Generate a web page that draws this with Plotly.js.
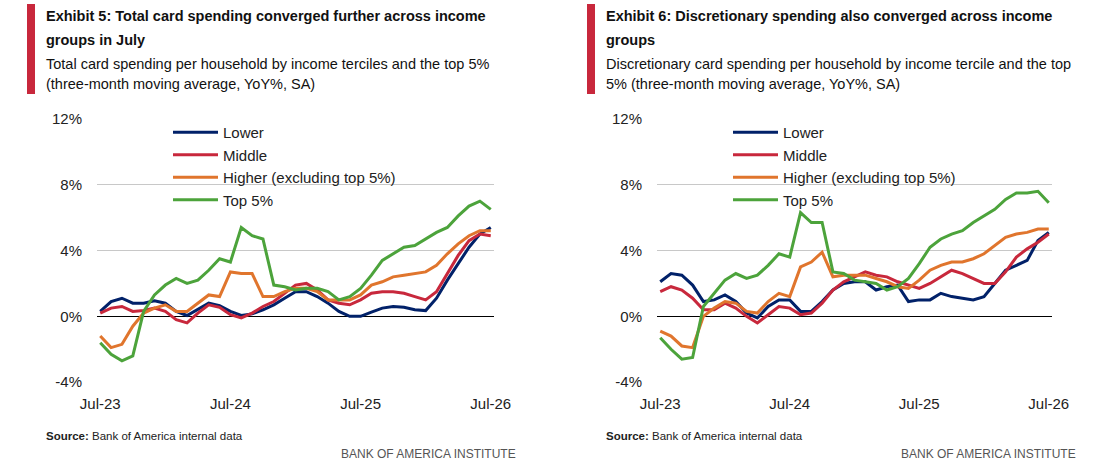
<!DOCTYPE html>
<html>
<head>
<meta charset="utf-8">
<script src="https://cdn.plot.ly/plotly-3.0.1.min.js"></script>
<style>body{margin:0;background:#fff}#chart{width:1102px;height:474px}</style>
</head>
<body>
<div id="chart"></div>
<script>
// === Data (monthly, Jul-23 .. Jul-26) === //
var months = [];
var monthNames = ['Jul','Aug','Sep','Oct','Nov','Dec','Jan','Feb','Mar','Apr','May','Jun'];
for(i=0;i<37;i++){
    var y = 23 + Math.floor(i/12);
    months.push(monthNames[i%12] + '-' + y);
}
var tickVals = ['Jul-23','Jul-24','Jul-25','Jul-26'];
var seriesNames = ['Lower','Middle','Higher (excluding top 5%)','Top 5%'];
var colors = ['#012169','#c8283c','#e0752d','#4ca33b'];

// Exhibit 5: total card spending
var totLower  = [0.3,0.9,1.1,0.8,0.8,0.95,0.8,0.3,0.05,0.4,0.8,0.65,0.3,0.05,0.15,0.4,0.7,1.1,1.5,1.5,1.2,0.8,0.3,0.0,0.0,0.25,0.5,0.6,0.55,0.4,0.35,1.1,2.2,3.2,4.2,5.0,5.4];
var totMiddle = [0.2,0.5,0.6,0.3,0.35,0.5,0.3,-0.2,-0.4,0.2,0.7,0.55,0.1,-0.1,0.2,0.6,0.9,1.4,1.9,2.0,1.6,1.0,0.8,0.7,1.0,1.4,1.5,1.5,1.4,1.2,1.0,1.5,2.6,3.7,4.6,5.0,4.9];
var totHigher = [-1.2,-1.9,-1.7,-0.6,0.2,0.5,0.7,0.3,0.3,0.8,1.3,1.2,2.7,2.6,2.6,1.2,1.2,1.5,1.7,1.7,1.5,1.0,1.0,1.0,1.3,1.9,2.1,2.4,2.5,2.6,2.7,3.1,3.8,4.4,4.9,5.2,5.2];
var totTop5   = [-1.6,-2.3,-2.7,-2.4,0.3,1.3,1.9,2.3,2.0,2.2,2.8,3.5,3.3,5.4,4.9,4.7,1.9,1.8,1.6,1.7,1.7,1.5,1.0,1.2,1.7,2.5,3.4,3.8,4.2,4.3,4.7,5.1,5.4,6.1,6.7,7.0,6.5];

// Exhibit 6: discretionary spending
var discLower  = [2.1,2.6,2.5,1.9,0.9,1.0,1.3,0.9,0.2,-0.1,0.6,1.0,1.0,0.3,0.3,0.9,1.6,2.0,2.1,2.1,1.6,1.8,1.9,0.9,1.0,1.0,1.4,1.2,1.1,1.0,1.2,2.0,2.8,3.1,3.4,4.6,5.1];
var discMiddle = [1.5,1.8,1.6,1.1,0.4,0.4,0.8,0.5,0.0,-0.4,0.1,0.6,0.5,0.1,0.2,0.8,1.6,2.1,2.4,2.7,2.5,2.4,2.1,1.9,1.7,2.0,2.4,2.8,2.6,2.3,2.0,2.0,2.7,3.6,4.1,4.5,5.0];
var discHigher = [-0.9,-1.2,-1.8,-1.9,0.0,0.5,0.9,0.8,0.3,0.2,0.9,1.4,1.2,3.0,3.3,3.9,2.4,2.5,2.5,2.5,2.3,2.1,1.8,1.7,2.2,2.8,3.1,3.3,3.3,3.5,3.8,4.3,4.8,5.0,5.1,5.3,5.3];
var discTop5   = [-1.3,-2.0,-2.6,-2.5,0.6,1.4,2.2,2.6,2.3,2.5,3.1,3.8,3.6,6.3,5.7,5.7,2.7,2.6,2.2,2.1,2.0,1.6,1.8,2.3,3.2,4.2,4.7,5.0,5.2,5.7,6.1,6.5,7.1,7.5,7.5,7.6,6.9];

var yTicks = [-4,0,4,8,12];
var yLabels = ['-4%','0%','4%','8%','12%'];

// === Helpers === //
var W = 1102, H = 474;
function px(x){ return x / W; }
function py(y){ return 1 - y / H; }

var font = 'Liberation Sans Narrow, Arial Narrow, Liberation Sans, sans-serif';

var panels = [
    {sets:[totLower,totMiddle,totHigher,totTop5], x0:97, x1:494, xa:'x', ya:'y', legend:'legend'},
    {sets:[discLower,discMiddle,discHigher,discTop5], x0:657, x1:1052, xa:'x2', ya:'y2', legend:'legend2'}
];

var traces = [];
panels.forEach((p)=>{
    p.sets.forEach((vals,k)=>{
        traces.push({
            x: months, y: vals, name: seriesNames[k],
            type: 'scatter', mode: 'lines',
            line: {color: colors[k], width: 3},
            xaxis: p.xa, yaxis: p.ya, legend: p.legend,
            hoverinfo: 'skip'
        });
    });
});

function xAxis(p){
    return {
        domain: [px(p.x0), px(p.x1)], anchor: p.ya === 'y' ? 'y' : 'y2',
        type: 'category', tickvals: tickVals, ticktext: tickVals,
        showgrid: false, showline: false, zeroline: false, ticks: '',
        range: [-0.3, 36.3], ticklabelstandoff: 10,
        tickfont: {family: font, size: 15, color: '#222'}
    };
}
function yAxis(p){
    return {
        domain: [py(383), py(118)], anchor: p.xa,
        range: [-4.05, 12.05], tickvals: yTicks, ticktext: yLabels,
        showgrid: true, gridcolor: '#c8c8c8', gridwidth: 1.5,
        zeroline: true, zerolinecolor: '#000', zerolinewidth: 1.5,
        showline: false, ticks: '', ticklen: 0, ticklabelstandoff: 14,
        tickfont: {family: font, size: 15, color: '#222'}
    };
}

function legendAt(x){
    return {
        x: px(x), y: py(116), xanchor: 'left', yanchor: 'top',
        bgcolor: 'rgba(0,0,0,0)', tracegroupgap: 0, itemwidth: 45,
        font: {family: font, size: 15, color: '#222'}
    };
}

var ann = [];
function header(x, title1, title2, sub1, sub2, srcX, brandX){
    ann.push({x: px(x), y: py(6), text: '<b>' + title1 + '</b>', xanchor: 'left', yanchor: 'top'});
    ann.push({x: px(x), y: py(30), text: '<b>' + title2 + '</b>', xanchor: 'left', yanchor: 'top'});
    ann.push({x: px(x), y: py(54), text: sub1, xanchor: 'left', yanchor: 'top', font: {family: font, size: 14.5, color: '#111'}});
    ann.push({x: px(x), y: py(74), text: sub2, xanchor: 'left', yanchor: 'top', font: {family: font, size: 14.5, color: '#111'}});
    ann.push({x: px(srcX), y: py(428), text: '<b>Source:</b> Bank of America internal data', xanchor: 'left', yanchor: 'top', font: {family: font, size: 11.5, color: '#222'}});
    ann.push({x: px(brandX), y: py(445), text: 'BANK OF AMERICA INSTITUTE', xanchor: 'right', yanchor: 'top', font: {family: font, size: 12, color: '#555'}});
}
header(44, 'Exhibit 5: Total card spending converged further across income', 'groups in July',
       'Total card spending per household by income terciles and the top 5%', '(three-month moving average, YoY%, SA)', 44, 518);
header(604, 'Exhibit 6: Discretionary spending also converged across income', 'groups',
       'Discretionary card spending per household by income tercile and the top', '5% (three-month moving average, YoY%, SA)', 604, 1078);
ann.forEach((a)=>{
    a.xref = 'paper'; a.yref = 'paper'; a.showarrow = false;
    if(!a.font){ a.font = {family: font, size: 14.5, color: '#111'}; }
});

var layout = {
    width: W, height: H,
    margin: {l:0, r:0, t:0, b:0},
    paper_bgcolor: '#fff', plot_bgcolor: '#fff',
    xaxis: xAxis(panels[0]), yaxis: yAxis(panels[0]),
    xaxis2: xAxis(panels[1]), yaxis2: yAxis(panels[1]),
    legend: legendAt(168), legend2: legendAt(728),
    annotations: ann,
    shapes: [
        {type:'rect', xref:'paper', yref:'paper', x0:px(27), x1:px(35), y0:py(94), y1:py(4), fillcolor:'#c8283c', line:{width:0}},
        {type:'rect', xref:'paper', yref:'paper', x0:px(587), x1:px(595), y0:py(94), y1:py(4), fillcolor:'#c8283c', line:{width:0}}
    ]
};

Plotly.newPlot('chart', traces, layout, {staticPlot: true});
</script>
</body>
</html>
